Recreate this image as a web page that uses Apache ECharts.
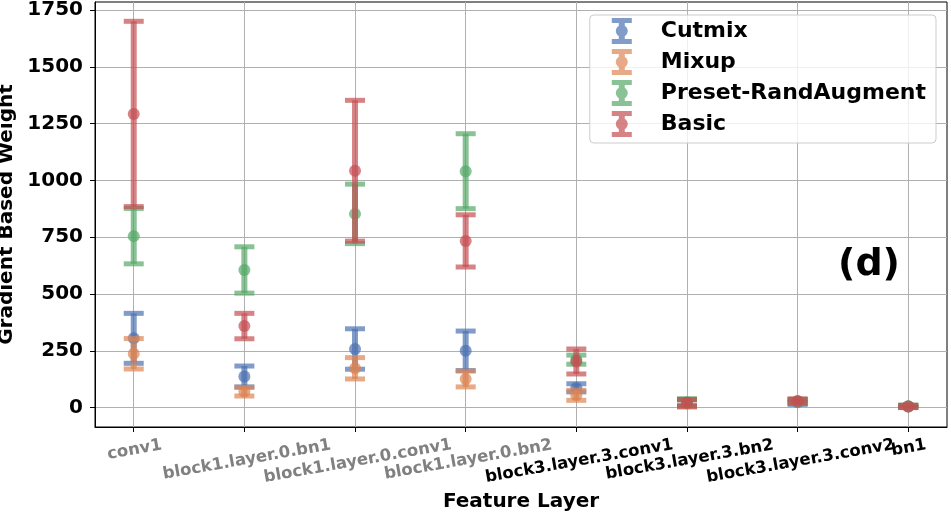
<!DOCTYPE html>
<html>
<head>
<meta charset="utf-8">
<script src="https://cdn.jsdelivr.net/npm/echarts@6/dist/echarts.min.js"></script>
<style>
  html, body { margin: 0; padding: 0; background: #fff; }
  #main { width: 951px; height: 512px; }
</style>
</head>
<body>
<div id="main"></div>
<script>
const categories = ['conv1', 'block1.layer.0.bn1', 'block1.layer.0.conv1', 'block1.layer.0.bn2',
  'block3.layer.3.conv1', 'block3.layer.3.bn2', 'block3.layer.3.conv2', 'bn1'];
const yTicks = [0, 250, 500, 750, 1000, 1250, 1500, 1750];

const cutmixMean = [305, 137, 258, 250, 87, 20, 24, 5];
const cutmixStd = [110, 46, 89, 87, 18, 14, 10, 4];
const mixupMean = [237, 70, 173, 126, 54, 18, 27, 5];
const mixupStd = [67, 19, 47, 35, 22, 16, 9, 4];
const presetMean = [755, 606, 853, 1041, 211, 24, 28, 6];
const presetStd = [122, 102, 131, 165, 20, 15, 9, 5];
const basicMean = [1293, 359, 1043, 734, 203, 21, 29, 5];
const basicStd = [408, 56, 310, 115, 55, 15, 9, 5];

const FONT = 'DejaVu Sans';
const ALPHA = 0.7;
const LABEL_SIZE = 16.5;
const X_MIN = -0.35;
const X_MAX = 7.35;

// errorbar icon for legend: cap, bar, dot, cap
const errIcon = 'path://M0 0H20V5H0Z M7 5H13V21H7Z M0 21H20V26H0Z M16 13A6 6 0 1 1 4 13A6 6 0 1 1 16 13Z';

// rotated tick labels: push longer ones down a bit like matplotlib does
const ctx = document.createElement('canvas').getContext('2d');
ctx.font = 'bold ' + LABEL_SIZE + 'px "' + FONT + '"';
const rich = {};
categories.forEach(function (c, i) {
  rich['r' + i] = {
    color: i < 4 ? '#808080' : '#000',
    fontFamily: FONT,
    fontWeight: 'bold',
    fontSize: LABEL_SIZE,
    padding: [Math.round(ctx.measureText(c).width * Math.sin(10 * Math.PI / 180)), 0, 0, 0]
  };
});

function errorbar (color) {
  return function (params, api) {
    const x = api.value(0);
    const m = api.value(1);
    const s = api.value(2);
    const hi = api.coord([x, m + s]);
    const lo = api.coord([x, m - s]);
    const c = api.coord([x, m]);
    const st = { fill: color, opacity: ALPHA };
    return {
      type: 'group',
      children: [
        { type: 'rect', shape: { x: hi[0] - 3, y: hi[1], width: 6, height: lo[1] - hi[1] }, style: st },
        { type: 'rect', shape: { x: hi[0] - 10, y: hi[1] - 2.5, width: 20, height: 5 }, style: st },
        { type: 'rect', shape: { x: lo[0] - 10, y: lo[1] - 2.5, width: 20, height: 5 }, style: st },
        { type: 'circle', shape: { cx: c[0], cy: c[1], r: 6 }, style: st }
      ]
    };
  };
}

function makeSeries (name, color, mean, std) {
  return {
    name: name,
    type: 'custom',
    renderItem: errorbar(color),
    itemStyle: { color: color },
    encode: { x: 0, y: 1 },
    data: mean.map(function (v, i) { return [i, v, std[i]]; })
  };
}

const xPos = categories.map(function (c, i) { return i; });
// empty label at the axis end so echarts' min/max overlap check leaves "bn1" and its neighbour alone
const xLabelPos = xPos.concat([X_MAX]);

const myChart = echarts.init(document.getElementById('main'));
myChart.setOption({
  animation: false,
  backgroundColor: '#fff',
  grid: {
    left: 95,
    right: 4,
    top: 2,
    bottom: 85,
    show: true,
    borderColor: '#000',
    borderWidth: 1,
    outerBoundsMode: 'none'
  },
  legend: {
    orient: 'vertical',
    right: 15,
    top: 15,
    padding: [3, 10, 6, 22],
    itemWidth: 20,
    itemHeight: 26,
    itemGap: 5,
    backgroundColor: 'rgba(255,255,255,0.8)',
    borderColor: '#cccccc',
    borderWidth: 1,
    borderRadius: 4,
    textStyle: { fontFamily: FONT, fontWeight: 'bold', fontSize: 22, color: '#000', padding: [0, 0, 0, 24] },
    data: [
      { name: 'Cutmix', icon: errIcon, itemStyle: { color: '#4c72b0', opacity: ALPHA } },
      { name: 'Mixup', icon: errIcon, itemStyle: { color: '#dd8452', opacity: ALPHA } },
      { name: 'Preset-RandAugment', icon: errIcon, itemStyle: { color: '#55a868', opacity: ALPHA } },
      { name: 'Basic', icon: errIcon, itemStyle: { color: '#c44e52', opacity: ALPHA } }
    ]
  },
  graphic: [{
    type: 'text',
    x: 869,
    y: 265,
    style: {
      text: '(d)',
      fontFamily: FONT,
      fontWeight: 'bold',
      fontSize: 38,
      fill: '#000',
      align: 'center',
      verticalAlign: 'middle'
    }
  }],
  xAxis: {
    type: 'value',
    min: X_MIN,
    max: X_MAX,
    name: 'Feature Layer',
    nameLocation: 'middle',
    nameGap: 64,
    nameTextStyle: { fontFamily: FONT, fontWeight: 'bold', fontSize: 20, color: '#000' },
    axisLine: { show: true, onZero: false, lineStyle: { color: '#000', width: 1 } },
    axisTick: { show: true, length: 5, lineStyle: { color: '#000' }, customValues: xPos },
    axisLabel: {
      customValues: xLabelPos,
      hideOverlap: false,
      rotate: 10,
      align: 'center',
      verticalAlign: 'middle',
      margin: 18,
      formatter: function (v) {
        return categories[v] ? '{r' + v + '|' + categories[v] + '}' : '';
      },
      rich: rich
    },
    splitLine: { show: true, lineStyle: { color: '#b0b0b0', width: 1 } }
  },
  yAxis: {
    type: 'value',
    min: -85.5,
    max: 1786,
    name: 'Gradient Based Weight',
    nameLocation: 'middle',
    nameGap: 62,
    nameTextStyle: { fontFamily: FONT, fontWeight: 'bold', fontSize: 20, color: '#000' },
    axisLine: { show: true, onZero: false, lineStyle: { color: '#000', width: 1 } },
    axisTick: { show: true, length: 5, lineStyle: { color: '#000' }, customValues: yTicks },
    axisLabel: {
      customValues: yTicks,
      margin: 12,
      fontFamily: FONT,
      fontWeight: 'bold',
      fontSize: 20,
      color: '#000',
      formatter: function (v) { return String(v); }
    },
    splitLine: { show: true, lineStyle: { color: '#b0b0b0', width: 1 } }
  },
  series: [
    makeSeries('Cutmix', '#4c72b0', cutmixMean, cutmixStd),
    makeSeries('Mixup', '#dd8452', mixupMean, mixupStd),
    makeSeries('Preset-RandAugment', '#55a868', presetMean, presetStd),
    makeSeries('Basic', '#c44e52', basicMean, basicStd)
  ]
});
window.addEventListener('resize', function () {
  myChart.resize();
});
</script>
</body>
</html>
